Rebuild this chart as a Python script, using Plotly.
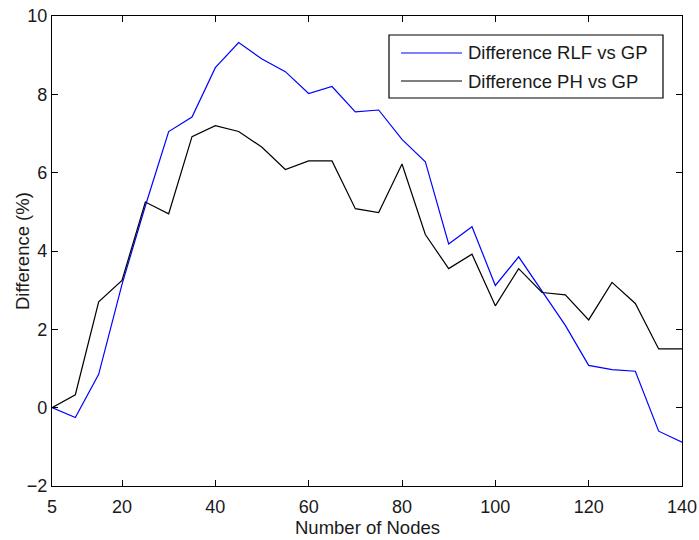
import plotly.graph_objects as go

# Network size (number of nodes) on the x axis
nodes = [5, 10, 15, 20, 25, 30, 35, 40, 45, 50, 55, 60, 65, 70,
         75, 80, 85, 90, 95, 100, 105, 110, 115, 120, 125, 130, 135, 140]

# Percentage difference of each heuristic relative to GP
diff_rlf = [0.0, -0.25, 0.85, 3.15, 5.15, 7.05, 7.42, 8.68, 9.32, 8.90,
            8.58, 8.02, 8.20, 7.55, 7.60, 6.85, 6.28, 4.18, 4.62, 3.12,
            3.85, 2.96, 2.10, 1.08, 0.97, 0.93, -0.60, -0.88]
diff_ph = [0.0, 0.33, 2.70, 3.25, 5.25, 4.95, 6.92, 7.20, 7.05, 6.65,
           6.08, 6.30, 6.30, 5.08, 4.98, 6.22, 4.42, 3.55, 3.92, 2.60,
           3.55, 2.94, 2.88, 2.24, 3.20, 2.66, 1.50, 1.50]

series_names = ["Difference RLF vs GP", "Difference PH vs GP"]
series_colors = ["#0000ff", "#000000"]

x_ticks = [5, 20, 40, 60, 80, 100, 120, 140]
y_ticks = [-2, 0, 2, 4, 6, 8, 10]

FONT = "Liberation Sans, Arial, sans-serif"
TXT = "#1a1a1a"

W, H = 699, 540
ML, MR, MT, MB = 52, 17, 16, 54
PW, PH = W - ML - MR, H - MT - MB


def px_to_paper_x(px):
    return (px - ML) / PW


def px_to_paper_y(py):
    return 1 - (py - MT) / PH


fig = go.Figure()
for vals, name, color in zip([diff_rlf, diff_ph], series_names, series_colors):
    fig.add_trace(go.Scatter(x=nodes, y=vals, mode="lines", name=name,
                             showlegend=False,
                             line=dict(color=color, width=1.2)))

axis_common = dict(showgrid=False, zeroline=False, showline=True,
                   linecolor="black", linewidth=1.3, mirror="ticks",
                   ticks="inside", ticklen=6, tickwidth=1, tickcolor="black",
                   automargin=False,
                   tickfont=dict(family=FONT, size=18, color=TXT))

fig.update_xaxes(range=[5, 140], tickvals=x_ticks, ticklabelstandoff=4,
                 **axis_common)
fig.update_yaxes(range=[-2, 10], tickvals=y_ticks, **axis_common)

# Axis titles
annotations = [
    dict(text="Number of Nodes", xref="paper", yref="paper",
         x=0.5, y=px_to_paper_y(527), xanchor="center", yanchor="middle",
         showarrow=False, font=dict(family=FONT, size=18.5, color=TXT)),
    dict(text="Difference (%)", xref="paper", yref="paper",
         x=px_to_paper_x(22), y=0.5, xanchor="center", yanchor="middle",
         textangle=-90, showarrow=False,
         font=dict(family=FONT, size=18.5, color=TXT)),
]

# Boxed legend in the upper right corner
box_l, box_r, box_t, box_b = 389, 663, 35, 98
row_y = [53, 81]
shapes = [dict(type="rect", xref="paper", yref="paper",
               x0=px_to_paper_x(box_l), x1=px_to_paper_x(box_r),
               y0=px_to_paper_y(box_b), y1=px_to_paper_y(box_t),
               line=dict(color="black", width=1.2), fillcolor="white",
               layer="above")]
for name, color, ry in zip(series_names, series_colors, row_y):
    shapes.append(dict(type="line", xref="paper", yref="paper",
                       x0=px_to_paper_x(401), x1=px_to_paper_x(462),
                       y0=px_to_paper_y(ry), y1=px_to_paper_y(ry),
                       line=dict(color=color, width=1.2), layer="above"))
    annotations.append(dict(text=name, xref="paper", yref="paper",
                            x=px_to_paper_x(466), y=px_to_paper_y(ry),
                            xanchor="left", yanchor="middle", showarrow=False,
                            font=dict(family=FONT, size=18.5, color=TXT)))

fig.update_layout(
    width=W, height=H,
    margin=dict(l=ML, r=MR, t=MT, b=MB),
    paper_bgcolor="white", plot_bgcolor="white",
    font=dict(family=FONT, size=18, color=TXT),
    showlegend=False,
    shapes=shapes, annotations=annotations,
)

fig.write_html("out.html")
